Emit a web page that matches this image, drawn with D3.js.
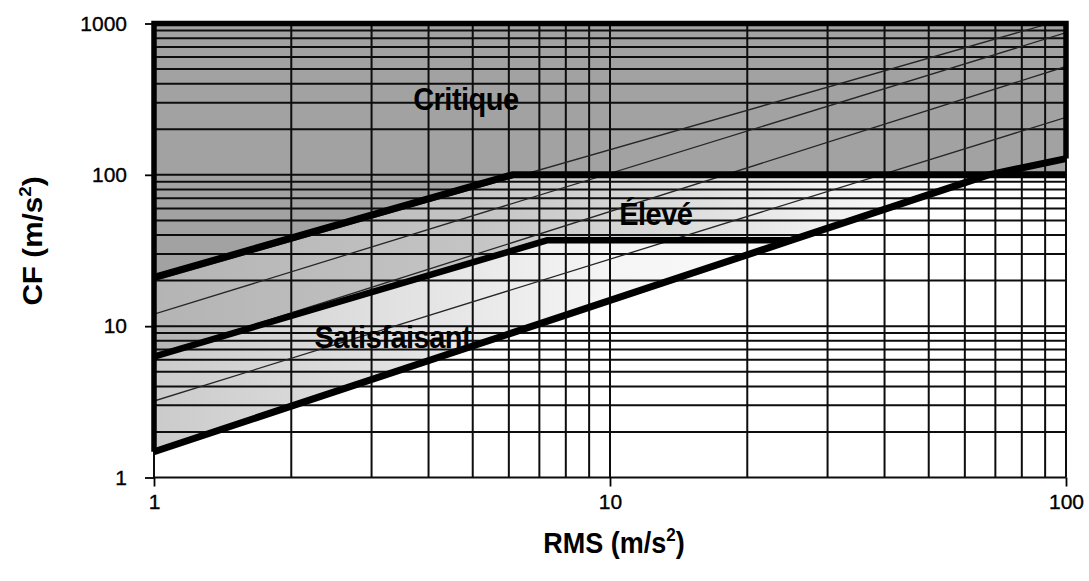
<!DOCTYPE html>
<html>
<head>
<meta charset="utf-8">
<script src="https://cdnjs.cloudflare.com/ajax/libs/d3/7.8.5/d3.min.js"></script>
<style>
  body { margin: 0; background: #ffffff; }
  svg { display: block; }
  text { font-family: "Liberation Sans", Arial, Helvetica, sans-serif; fill: #000; }
</style>
</head>
<body>
<svg id="chart" width="1089" height="581"></svg>
<script>
// Axis ticks and labels
const xTicks = [1, 10, 100];
const xTickLabels = ["1", "10", "100"];
const yTicks = [1, 10, 100, 1000];
const yTickLabels = ["1", "10", "100", "1000"];

// Zone boundaries, as (RMS, CF) pairs
const lowerBoundary  = [[1, 1.48], [25, 37], [67.6, 100], [100, 128]];
const middleBoundary = [[1, 6.3], [7.3, 37], [25, 37]];
const upperBoundary  = [[1, 21], [6.1, 100], [100, 100]];

// Thin reference lines of constant crest ratio
const guideLines = [
  [[1, 3.2], [100, 240]],
  [[1, 6.3], [100, 520]],
  [[1, 12], [100, 870]],
  [[1, 20], [92, 1000]]
];

// Zone names and their anchor points (RMS, CF)
const zoneNames = ["Critique", "Élevé", "Satisfaisant"];
const zoneAnchors = [[4.83, 268], [12.6, 46.7], [3.34, 7.18]];

const svg = d3.select("#chart");
const x = d3.scaleLog().domain([1, 100]).range([154, 1066]);
const y = d3.scaleLog().domain([1, 1000]).range([477.5, 23.5]);
const [xMin, xMax] = x.domain();
const [yMin, yMax] = y.domain();

const line = d3.line().x(d => x(d[0])).y(d => y(d[1]));

// Gradients for the lower zones
const defs = svg.append("defs");
function gradient(id, stops) {
  const g = defs.append("linearGradient").attr("id", id)
    .attr("gradientUnits", "userSpaceOnUse")
    .attr("x1", x(xMin)).attr("x2", x(xMax)).attr("y1", 0).attr("y2", 0);
  stops.forEach(s => g.append("stop").attr("offset", s[0]).attr("stop-color", s[1]));
}
gradient("gElev", [[0, "#b4b4b4"], [0.35, "#c4c4c4"], [0.55, "#d9d9d9"], [0.75, "#f2f2f2"], [1, "#ffffff"]]);
gradient("gSat", [[0, "#cbcbcb"], [0.25, "#e0e0e0"], [0.5, "#f5f5f5"], [1, "#ffffff"]]);

defs.append("clipPath").attr("id", "plotClip").append("rect")
  .attr("x", x(xMin)).attr("y", y(yMax))
  .attr("width", x(xMax) - x(xMin)).attr("height", y(yMin) - y(yMax));

// Zone polygons
const critiquePoly = [[xMin, yMax], [xMax, yMax]].concat(upperBoundary.slice().reverse()).concat([[xMin, yMax]]);
const elevePoly = middleBoundary
  .concat(lowerBoundary.slice(2, 3))
  .concat(upperBoundary.slice(0, 2).reverse());
const satPoly = [lowerBoundary[0], lowerBoundary[1]].concat(middleBoundary.slice().reverse());

svg.append("path").attr("d", line(satPoly) + "Z").attr("fill", "url(#gSat)");
svg.append("path").attr("d", line(elevePoly) + "Z").attr("fill", "url(#gElev)");
svg.append("path").attr("d", line(critiquePoly) + "Z").attr("fill", "#a2a2a2");

// Log grid
const gridVals = (lo, hi) => {
  const out = [];
  for (let p = lo; p < hi; p *= 10) for (let k = 1; k <= 9; k++) out.push(p * k);
  out.push(hi);
  return out;
};
const grid = svg.append("g").attr("stroke", "#0d0d0d").attr("stroke-width", 2);
grid.selectAll("line.v").data(gridVals(xMin, xMax)).join("line")
  .attr("x1", d => x(d)).attr("x2", d => x(d))
  .attr("y1", y(yMin)).attr("y2", y(yMax));
grid.selectAll("line.h").data(gridVals(yMin, yMax)).join("line")
  .attr("y1", d => y(d)).attr("y2", d => y(d))
  .attr("x1", x(xMin)).attr("x2", x(xMax));

// Thin guide lines
svg.append("g").attr("clip-path", "url(#plotClip)")
  .selectAll("path").data(guideLines).join("path")
  .attr("d", line).attr("fill", "none")
  .attr("stroke", "#262626").attr("stroke-width", 1.3);

// Outer frame of the shaded area
svg.append("path")
  .attr("d", line([lowerBoundary[0], [xMin, yMax], [xMax, yMax], lowerBoundary[lowerBoundary.length - 1]]))
  .attr("fill", "none").attr("stroke", "#000").attr("stroke-width", 5.5)
  .attr("stroke-linejoin", "miter");

// Zone boundaries
const bold = svg.append("g").attr("fill", "none").attr("stroke", "#000")
  .attr("stroke-linejoin", "round");
bold.append("path").attr("d", line(lowerBoundary)).attr("stroke-width", 7);
bold.append("path").attr("d", line(middleBoundary)).attr("stroke-width", 6.5);
bold.append("path").attr("d", line(upperBoundary)).attr("stroke-width", 7);

// Axes
const xAxis = d3.axisBottom(x).tickValues(xTicks)
  .tickFormat((d, i) => xTickLabels[i]).tickSize(9).tickPadding(8);
const yAxis = d3.axisLeft(y).tickValues(yTicks)
  .tickFormat((d, i) => yTickLabels[i]).tickSize(9).tickPadding(18);

function styleAxis(g) {
  g.select(".domain").remove();
  g.selectAll(".tick line").attr("stroke", "#000").attr("stroke-width", 1.8);
  g.selectAll(".tick text").attr("font-size", 21).attr("fill", "#000")
    .attr("stroke", "#000").attr("stroke-width", 0.35)
    .style("font-family", '"Liberation Sans", Arial, sans-serif');
}
svg.append("g").attr("transform", `translate(0,${y(yMin)})`).call(xAxis).call(styleAxis);
svg.append("g").attr("transform", `translate(${x(xMin)},0)`).call(yAxis).call(styleAxis);

// Zone names
zoneNames.forEach((name, i) => {
  const [rx, cy] = zoneAnchors[i];
  svg.append("g")
    .attr("transform", `translate(${x(rx)},${y(cy)}) scale(1,1.1)`)
    .append("text")
    .attr("text-anchor", "middle")
    .attr("font-size", 29).attr("font-weight", "bold")
    .attr("letter-spacing", -0.5)
    .text(name);
});

// Axis titles
const xTitle = svg.append("g")
  .attr("transform", `translate(${(x(xMin) + x(xMax)) / 2 + 4},553) scale(1,1.1)`)
  .append("text").attr("text-anchor", "middle")
  .attr("font-size", 27).attr("font-weight", "bold");
xTitle.append("tspan").text("RMS (m/s");
xTitle.append("tspan").attr("dy", -11).attr("font-size", 17).text("2");
xTitle.append("tspan").attr("dy", 11).text(")");

const yTitle = svg.append("g")
  .attr("transform", `translate(42,241) rotate(-90) scale(1.1,1)`)
  .append("text").attr("text-anchor", "middle")
  .attr("font-size", 27).attr("font-weight", "bold");
yTitle.append("tspan").text("CF (m/s");
yTitle.append("tspan").attr("dy", -11).attr("font-size", 17).text("2");
yTitle.append("tspan").attr("dy", 11).text(")");
</script>
</body>
</html>
